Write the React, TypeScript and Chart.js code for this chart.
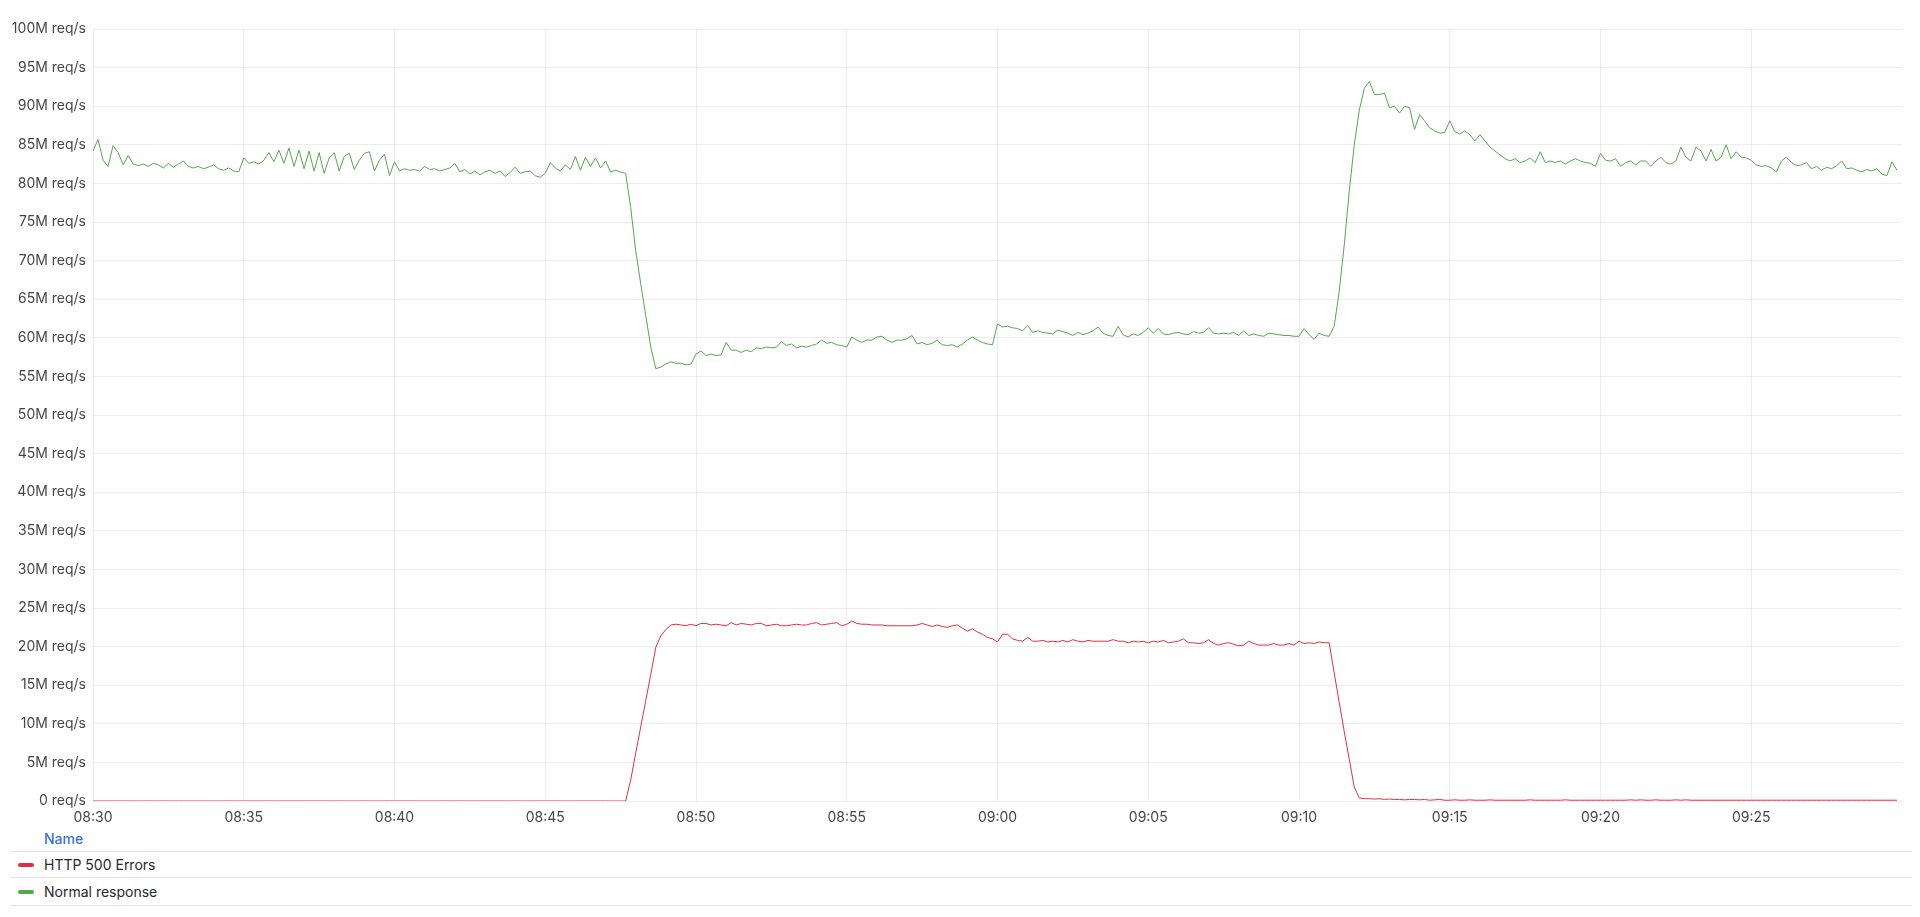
import { useEffect, useRef } from 'react';
import { Chart, registerables } from 'chart.js';

Chart.register(...registerables);

// one sample every 10 s, starting 08:30:00
const START_MINUTES = 8 * 60 + 30;
const SAMPLE_SECONDS = 10;
const TICK_SECONDS = 300;
const RANGE_SECONDS = 3600;

const seriesNames = ['HTTP 500 Errors', 'Normal response'];
const seriesColors = ['#E02F44', '#56A64B'];

// millions of requests per second
const normalResponse = [
  84.2, 85.7, 83.0, 82.2, 84.9, 84.0, 82.4, 83.6, 82.5, 82.3,
  82.5, 82.2, 82.6, 82.4, 82.0, 82.6, 82.1, 82.5, 82.9, 82.2,
  82.0, 82.2, 81.9, 82.1, 82.4, 81.9, 81.7, 82.0, 81.6, 81.5,
  83.3, 82.6, 82.8, 82.5, 83.0, 84.0, 82.8, 84.3, 82.6, 84.6,
  82.2, 84.3, 81.9, 84.2, 81.6, 84.0, 81.3, 83.3, 84.0, 81.6,
  83.5, 83.9, 81.8, 83.0, 83.9, 84.1, 81.6, 83.0, 83.8, 81.0,
  82.8, 81.6, 81.9, 81.7, 81.8, 81.6, 82.2, 81.8, 81.9, 81.6,
  81.8, 82.0, 82.6, 81.5, 81.8, 81.2, 81.6, 81.1, 81.5, 81.7,
  81.3, 81.6, 80.9, 81.4, 82.1, 81.3, 81.5, 81.6, 81.0, 80.8,
  81.3, 82.7, 82.0, 81.6, 82.4, 81.8, 83.5, 81.7, 83.4, 82.2,
  83.3, 82.0, 82.9, 81.5, 81.7, 81.5, 81.3, 76.9, 71.3, 67.0,
  62.9, 58.8, 56.0, 56.2, 56.6, 56.9, 56.7, 56.7, 56.5, 56.6,
  57.9, 58.3, 57.7, 57.9, 57.7, 57.8, 59.4, 58.4, 58.4, 58.1,
  58.4, 58.2, 58.7, 58.6, 58.8, 58.7, 58.8, 59.5, 59.0, 59.2,
  58.7, 58.9, 58.8, 59.0, 59.2, 59.7, 59.3, 59.4, 59.1, 59.0,
  58.8, 60.1, 59.7, 59.4, 59.7, 59.7, 60.1, 60.2, 59.7, 59.4,
  59.7, 59.7, 59.9, 60.3, 59.2, 59.4, 59.1, 59.3, 59.7, 59.1,
  59.0, 59.1, 58.8, 59.2, 59.7, 60.1, 59.7, 59.4, 59.2, 59.1,
  61.8, 61.4, 61.5, 61.3, 61.2, 60.9, 61.6, 60.7, 60.9, 60.7,
  60.6, 60.5, 61.0, 60.8, 60.6, 60.3, 60.7, 60.4, 60.6, 60.9,
  61.4, 60.6, 60.3, 60.2, 61.5, 60.4, 60.1, 60.5, 60.3, 60.7,
  61.3, 60.6, 61.2, 60.5, 60.4, 60.6, 60.7, 60.5, 60.4, 60.8,
  60.6, 60.7, 61.3, 60.6, 60.5, 60.6, 60.5, 60.7, 60.3, 60.9,
  60.3, 60.5, 60.3, 60.2, 60.6, 60.5, 60.4, 60.3, 60.3, 60.2,
  60.2, 61.2, 60.4, 59.8, 60.6, 60.3, 60.2, 61.5, 66.0, 72.0,
  79.0, 85.0, 89.5, 92.3, 93.2, 91.5, 91.5, 91.7, 89.8, 90.0,
  89.1, 90.0, 89.8, 87.0, 88.9, 88.1, 87.2, 86.8, 86.5, 86.6,
  88.1, 86.7, 86.4, 86.8, 86.3, 85.5, 86.3, 85.5, 84.7, 84.2,
  83.7, 83.2, 82.9, 83.2, 82.7, 82.9, 83.3, 82.7, 84.1, 82.7,
  82.9, 82.7, 82.9, 82.5, 82.9, 83.2, 82.9, 82.7, 82.6, 82.2,
  83.9, 83.0, 82.9, 83.2, 82.2, 82.7, 82.9, 82.4, 82.9, 82.9,
  82.2, 82.9, 83.4, 82.7, 82.5, 82.9, 84.7, 83.4, 82.9, 84.7,
  84.2, 82.9, 84.4, 82.9, 83.4, 85.0, 83.2, 84.1, 83.4, 83.3,
  83.0, 82.4, 82.2, 82.3, 82.0, 81.5, 82.9, 83.4, 82.7, 82.3,
  82.4, 82.7, 81.9, 82.2, 81.7, 82.1, 81.9, 82.3, 82.9, 81.9,
  82.0, 81.7, 81.5, 81.8, 81.6, 81.9, 81.2, 81.0, 82.8, 81.7,
];

const http500Errors = [
  0, 0, 0, 0, 0, 0, 0, 0, 0, 0,
  0, 0, 0, 0, 0, 0, 0, 0, 0, 0,
  0, 0, 0, 0, 0, 0, 0, 0, 0, 0,
  0, 0, 0, 0, 0, 0, 0, 0, 0, 0,
  0, 0, 0, 0, 0, 0, 0, 0, 0, 0,
  0, 0, 0, 0, 0, 0, 0, 0, 0, 0,
  0, 0, 0, 0, 0, 0, 0, 0, 0, 0,
  0, 0, 0, 0, 0, 0, 0, 0, 0, 0,
  0, 0, 0, 0, 0, 0, 0, 0, 0, 0,
  0, 0, 0, 0, 0, 0, 0, 0, 0, 0,
  0, 0, 0, 0, 0, 0, 0, 2.7, 6.2, 9.6,
  13.0, 16.4, 19.9, 21.4, 22.2, 22.8, 22.9, 22.8, 22.7, 22.9,
  22.7, 23.0, 23.0, 22.8, 22.9, 22.8, 22.7, 23.1, 22.8, 23.0,
  22.9, 22.8, 23.0, 23.0, 22.7, 22.8, 22.9, 22.7, 22.7, 22.8,
  22.9, 22.8, 22.8, 23.0, 23.1, 22.8, 22.9, 23.0, 23.1, 22.7,
  22.9, 23.3, 23.0, 22.9, 22.9, 22.8, 22.8, 22.8, 22.7, 22.7,
  22.7, 22.7, 22.7, 22.7, 22.8, 23.0, 22.8, 22.6, 22.8, 22.6,
  22.5, 22.7, 22.8, 22.4, 22.0, 22.3, 21.9, 21.6, 21.2, 21.0,
  20.6, 21.6, 21.6, 21.0, 20.8, 20.7, 21.2, 20.7, 20.7, 20.8,
  20.6, 20.7, 20.6, 20.8, 20.6, 20.9, 20.7, 20.6, 20.8, 20.7,
  20.7, 20.7, 20.7, 20.9, 20.7, 20.7, 20.5, 20.7, 20.6, 20.7,
  20.5, 20.7, 20.6, 20.8, 20.5, 20.6, 20.7, 21.0, 20.5, 20.5,
  20.4, 20.5, 20.9, 20.4, 20.2, 20.4, 20.5, 20.3, 20.1, 20.2,
  20.7, 20.4, 20.2, 20.2, 20.2, 20.4, 20.2, 20.2, 20.4, 20.2,
  20.7, 20.4, 20.5, 20.4, 20.6, 20.5, 20.5, 16.6, 12.8, 9.0,
  5.4, 1.8, 0.4, 0.3, 0.3, 0.25, 0.3, 0.2, 0.25, 0.2,
  0.2, 0.15, 0.2, 0.2, 0.15, 0.2, 0.1, 0.15, 0.2, 0.1,
  0.1, 0.15, 0.1, 0.1, 0.15, 0.1, 0.1, 0.1, 0.15, 0.1,
  0.1, 0.1, 0.1, 0.1, 0.1, 0.1, 0.15, 0.1, 0.1, 0.1,
  0.1, 0.1, 0.1, 0.15, 0.1, 0.1, 0.1, 0.1, 0.1, 0.1,
  0.1, 0.1, 0.1, 0.1, 0.1, 0.1, 0.15, 0.1, 0.15, 0.1,
  0.1, 0.15, 0.1, 0.1, 0.1, 0.15, 0.1, 0.15, 0.1, 0.1,
  0.1, 0.1, 0.1, 0.1, 0.1, 0.1, 0.1, 0.1, 0.1, 0.1,
  0.1, 0.1, 0.1, 0.1, 0.1, 0.1, 0.1, 0.1, 0.1, 0.1,
  0.1, 0.1, 0.1, 0.1, 0.1, 0.1, 0.1, 0.1, 0.1, 0.1,
  0.1, 0.1, 0.1, 0.1, 0.1, 0.1, 0.1, 0.1, 0.1, 0.1,
];

const FONT = 'Inter, "Noto Sans", sans-serif';
const GRID = 'rgba(0, 0, 0, 0.07)';
const TICK_COLOR = '#464646';

const toPoints = (values: number[]) =>
  values.map((v, i) => ({ x: i * SAMPLE_SECONDS, y: v }));

// the right edge (09:30) gets neither a label nor a grid line
const isInnerTick = (seconds: number) => seconds < RANGE_SECONDS;

const formatTime = (seconds: number) => {
  const total = START_MINUTES + Math.round(seconds / 60);
  const h = Math.floor(total / 60);
  const m = total % 60;
  return `${String(h).padStart(2, '0')}:${String(m).padStart(2, '0')}`;
};

const RequestsChart = () => {
  const canvasRef = useRef<HTMLCanvasElement | null>(null);
  const chartRef = useRef<Chart | null>(null);

  useEffect(() => {
    document.body.style.margin = '0';
    if (!canvasRef.current) return;
    const ctx = canvasRef.current.getContext('2d');
    if (!ctx) return;

    if (chartRef.current) chartRef.current.destroy();

    chartRef.current = new Chart(ctx, {
      type: 'line',
      data: {
        datasets: [
          {
            label: seriesNames[1],
            data: toPoints(normalResponse),
            borderColor: seriesColors[1],
            borderWidth: 1,
            pointRadius: 0,
            tension: 0,
          },
          {
            label: seriesNames[0],
            data: toPoints(http500Errors),
            borderColor: seriesColors[0],
            borderWidth: 1,
            pointRadius: 0,
            tension: 0,
          },
        ],
      },
      options: {
        animation: false,
        responsive: true,
        maintainAspectRatio: false,
        layout: { padding: { top: 29, right: 18, left: 0, bottom: 0 } },
        plugins: {
          legend: { display: false },
          tooltip: { enabled: false },
        },
        scales: {
          x: {
            type: 'linear',
            min: 0,
            max: RANGE_SECONDS,
            border: { display: false },
            grid: {
              drawTicks: false,
              color: (c) =>
                c.tick && isInnerTick(c.tick.value) ? GRID : 'rgba(0,0,0,0)',
            },
            ticks: {
              stepSize: TICK_SECONDS,
              autoSkip: false,
              maxRotation: 0,
              padding: 8,
              color: TICK_COLOR,
              font: { family: FONT, size: 14 },
              callback: (value) =>
                isInnerTick(Number(value)) ? formatTime(Number(value)) : '',
            },
            afterFit: (scale) => {
              scale.height = 29;
            },
          },
          y: {
            min: 0,
            max: 100,
            border: { display: false },
            grid: { color: GRID, drawTicks: false },
            ticks: {
              stepSize: 5,
              padding: 7,
              color: TICK_COLOR,
              font: { family: FONT, size: 14 },
              callback: (value) =>
                Number(value) === 0 ? '0 req/s' : `${value}M req/s`,
            },
            afterFit: (scale) => {
              scale.width = 93;
            },
          },
        },
      },
    });

    return () => {
      if (chartRef.current) {
        chartRef.current.destroy();
        chartRef.current = null;
      }
    };
  }, []);

  return (
    <div style={{ position: 'relative', width: 1920, height: 830 }}>
      <canvas ref={canvasRef}></canvas>
    </div>
  );
};

const Legend = () => (
  <div
    style={{
      marginLeft: 10,
      width: 1902,
      fontFamily: FONT,
      fontSize: 14,
      color: '#24292e',
    }}
  >
    <div
      style={{
        height: 21,
        lineHeight: '18px',
        paddingLeft: 34,
        color: '#3871dc',
        fontWeight: 500,
        borderBottom: '1px solid #e4e4e4',
      }}
    >
      Name
    </div>
    {seriesNames.map((name, i) => (
      <div
        key={name}
        style={{
          height: i === 0 ? 25 : 27,
          display: 'flex',
          alignItems: 'center',
          borderBottom: '1px solid #e4e4e4',
        }}
      >
        <span
          style={{
            display: 'inline-block',
            width: 16,
            height: 4,
            borderRadius: 2,
            marginLeft: 8,
            marginRight: 10,
            background: seriesColors[i],
          }}
        />
        {name}
      </div>
    ))}
  </div>
);

export default function App() {
  return (
    <div>
      <RequestsChart />
      <Legend />
    </div>
  );
}
